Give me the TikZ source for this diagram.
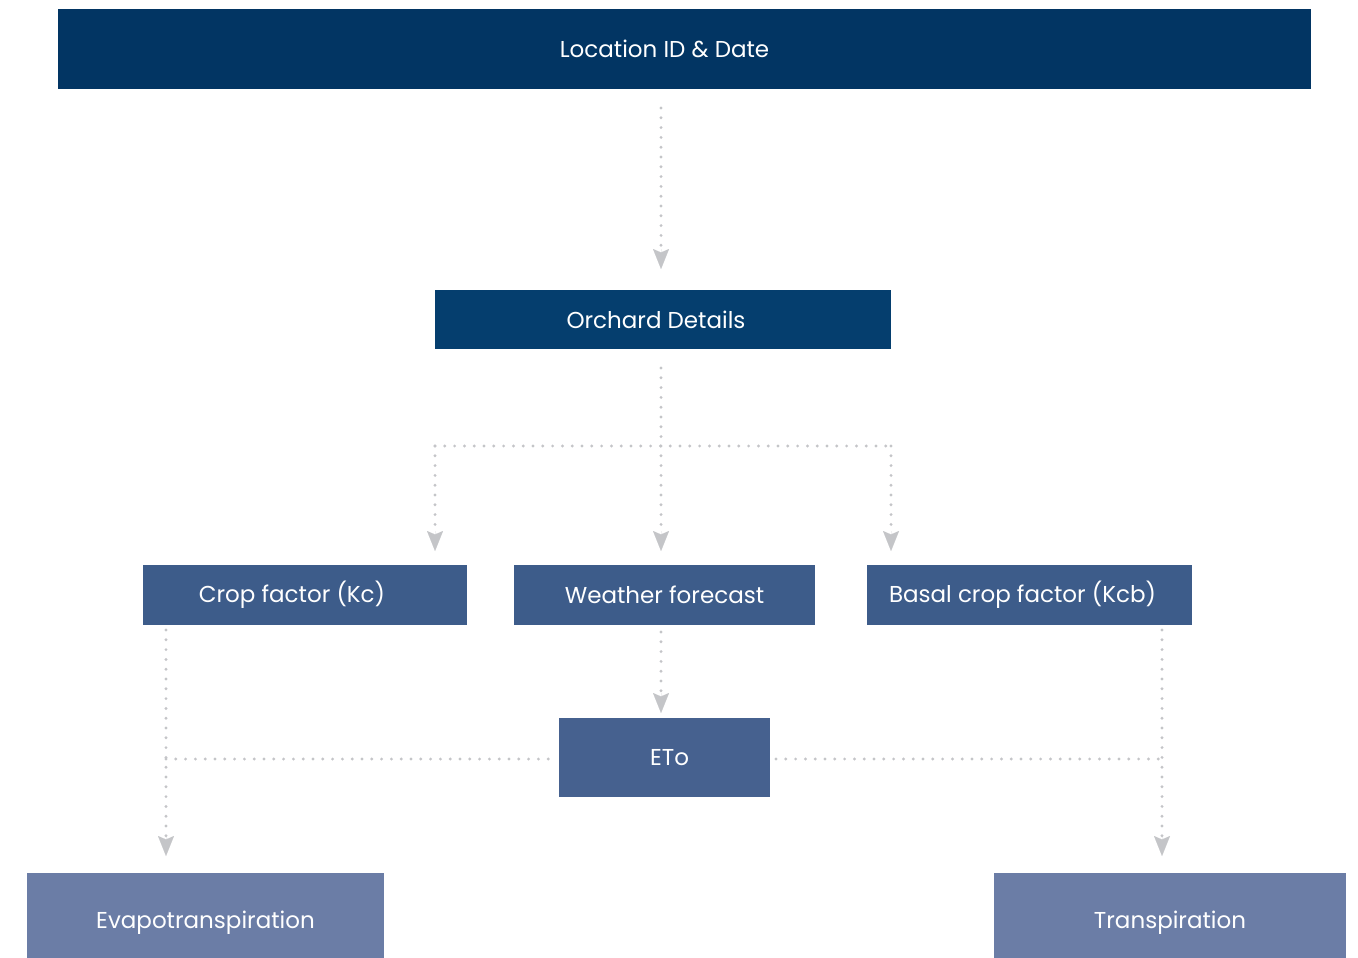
\documentclass[tikz,border=0pt]{standalone}
\usepackage{fontspec}
\setmainfont{Poppins}
\usetikzlibrary{arrows.meta}
\definecolor{navyA}{HTML}{023563}
\definecolor{navyB}{HTML}{053E6E}
\definecolor{steelA}{HTML}{3D5C8A}
\definecolor{steelB}{HTML}{46618F}
\definecolor{paleblue}{HTML}{6B7DA6}
\definecolor{dotgray}{HTML}{C4C5C8}
\tikzset{
  x=1pt, y=-1pt,
  box/.style={rectangle, inner sep=0pt, text=white, font=\fontsize{23}{27}\selectfont,
              minimum width=#1},
  flow/.style={dotgray, line width=3.2pt, line cap=round, dash pattern=on 0pt off 9.8pt},
  tip/.style={dotgray, line width=0.01pt,
              -{Stealth[inset=3.5pt, length=20pt, width=16pt]}},
}
\begin{document}
\begin{tikzpicture}
\useasboundingbox (0,0) rectangle (1358,958);

% boxes
\node[box=1253pt, minimum height=80pt, fill=navyA] (loc) at (684.5,49) {Location ID \& Date\hspace*{40pt}};
\node[box=456pt, minimum height=59pt, fill=navyB] (orch) at (663,319.5) {Orchard Details\hspace*{14pt}};
\node[box=324pt, minimum height=60pt, fill=steelA] (kc) at (305,595) {Crop factor (Kc)\hspace*{26pt}};
\node[box=301pt, minimum height=60pt, fill=steelA] (wf) at (664.5,595) {\raisebox{-2pt}{Weather forecast}};
\node[box=325pt, minimum height=60pt, fill=steelA] (kcb) at (1029.5,595) {Basal crop factor (Kcb)\hspace*{14pt}};
\node[box=211pt, minimum height=79pt, fill=steelB] (eto) at (664.5,757.5) {\hspace*{10pt}\raisebox{-2pt}{ETo}};
\node[box=357pt, minimum height=100pt, fill=paleblue] (evap) at (205.5,923) {Evapotranspiration};
\node[box=352pt, minimum height=100pt, fill=paleblue] (trans) at (1170,923) {Transpiration};

% junctions and arrow ends
\coordinate (l1) at (661,108);
\coordinate (t1) at (661,249);
\coordinate (l2) at (661,368);
\coordinate (br) at (661,446);
\coordinate (brL) at (435,446);
\coordinate (brR) at (891,446);
\coordinate (tL) at (435,531);
\coordinate (tM) at (661,531);
\coordinate (tR) at (891,531);
\coordinate (l3) at (661,632);
\coordinate (t3) at (661,693);
\coordinate (kcS) at (166,630);
\coordinate (kcJ) at (166,759);
\coordinate (kcE) at (166,836);
\coordinate (kcbS) at (1162,630);
\coordinate (kcbJ) at (1162,759);
\coordinate (kcbE) at (1162,836);
\coordinate (etoL) at (552,759);
\coordinate (etoR) at (776,759);

% dotted connectors
\draw[flow] (l1) -- (t1);
\draw[flow] (l2) -- (br);
\draw[flow] (brL) -- (brR);
\draw[flow] (brL) -- (tL);
\draw[flow] (br) -- (tM);
\draw[flow] (brR) -- (tR);
\draw[flow] (l3) -- (t3);
\draw[flow] (kcS) -- (kcE);
\draw[flow] (kcJ) -- (etoL);
\draw[flow] (kcbS) -- (kcbE);
\draw[flow] (etoR) -- (kcbJ);

% arrowheads
\foreach \c in {t1,tL,tM,tR,t3,kcE,kcbE}
  \draw[tip, fill=dotgray] (\c) -- ++(0,20);
\end{tikzpicture}
\end{document}
